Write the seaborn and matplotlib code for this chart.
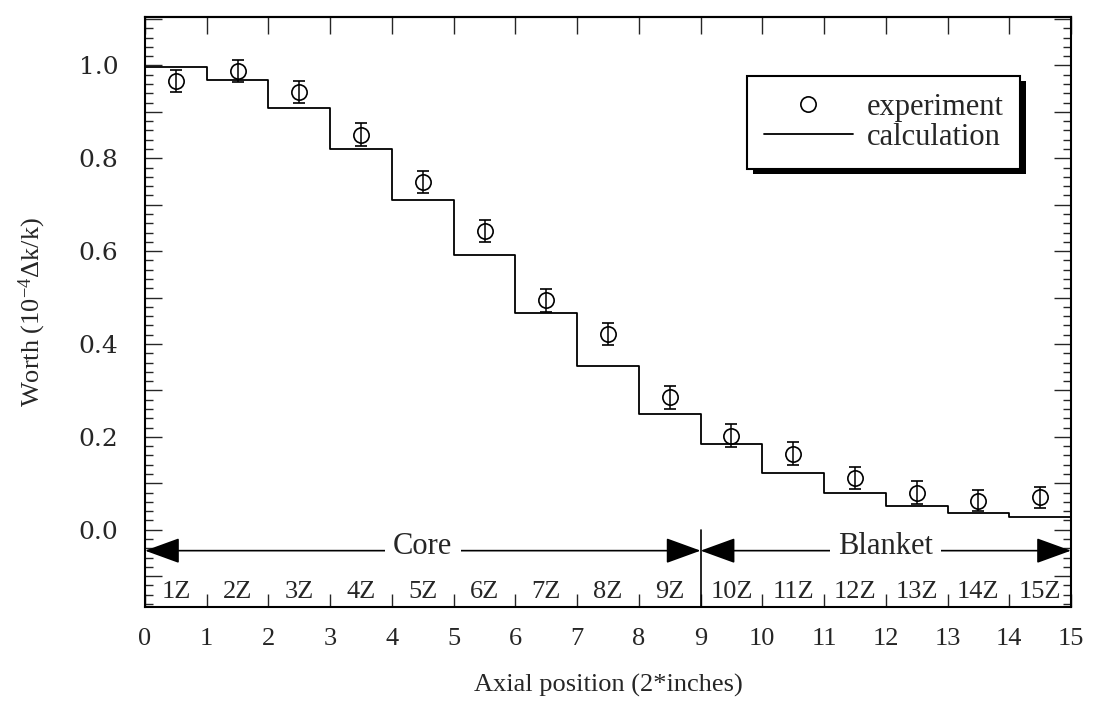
import numpy as np
import matplotlib
matplotlib.use("Agg")
import matplotlib.pyplot as plt
import matplotlib.patheffects as pe
from matplotlib.lines import Line2D
from matplotlib.ticker import MultipleLocator, FuncFormatter
import seaborn as sns

# ---------------- data ----------------
zones = ["1Z", "2Z", "3Z", "4Z", "5Z", "6Z", "7Z", "8Z", "9Z",
         "10Z", "11Z", "12Z", "13Z", "14Z", "15Z"]
zone_edges = list(range(16))            # axial boundaries 0..15
zone_centers = [i + 0.5 for i in range(15)]
calculation = [0.997, 0.968, 0.908, 0.819, 0.711, 0.591, 0.467, 0.352, 0.250,
               0.185, 0.122, 0.080, 0.052, 0.036, 0.027]
experiment = [0.967, 0.988, 0.943, 0.851, 0.749, 0.644, 0.494, 0.421, 0.285,
              0.203, 0.164, 0.111, 0.080, 0.063, 0.070]
exp_error = [0.024, 0.023, 0.024, 0.024, 0.024, 0.024, 0.024, 0.024, 0.024,
             0.024, 0.024, 0.024, 0.025, 0.022, 0.023]
core_range = (0, 9)
blanket_range = (9, 15)
region_labels = ["Core", "Blanket"]
x_ticks = list(range(16))

# ---------------- style ----------------
sns.set_theme(style="ticks")
plt.rcParams["font.family"] = ["Liberation Serif", "DejaVu Serif"]
plt.rcParams["mathtext.fontset"] = "custom"
plt.rcParams["mathtext.rm"] = "Liberation Serif"
plt.rcParams["mathtext.it"] = "Liberation Serif:italic"
plt.rcParams["axes.edgecolor"] = "black"
plt.rcParams["axes.linewidth"] = 1.5

fig = plt.figure(figsize=(10.95, 7.18), dpi=100)
ax = fig.add_axes([145 / 1095, 1 - 607.3 / 718, (1071 - 145) / 1095, (607.3 - 16.7) / 718])
ax.set_facecolor("white")

# calculation: step line
calc_ext = calculation + [calculation[-1]]
sns.lineplot(x=zone_edges, y=calc_ext, drawstyle="steps-post", color="black",
             linewidth=1.3, ax=ax, legend=False, estimator=None)

# experiment: hollow circles with error bars
ax.errorbar(zone_centers, experiment, yerr=exp_error, fmt="o", mfc="none",
            mec="black", ms=11, mew=1.2, ecolor="black", elinewidth=1.1,
            capsize=4.5, capthick=1.3, zorder=4)

ax.set_xlim(0, 15)
ax.set_ylim(-0.167, 1.105)

# region arrows
arrow_y = -0.045
for (x0, x1), lab in zip([core_range, blanket_range], region_labels):
    ax.annotate("", xy=(x0, arrow_y), xytext=(x1, arrow_y),
                arrowprops=dict(arrowstyle="<|-|>,head_length=1.1,head_width=0.4",
                                color="black", lw=1.2, shrinkA=0, shrinkB=0,
                                mutation_scale=20), zorder=3)
    ax.text((x0 + x1) / 2, arrow_y + 0.008, lab, ha="center", va="center",
            fontsize=22, zorder=6,
            bbox=dict(fc="white", ec="none", pad=6))

# core/blanket divider
ax.plot([core_range[1], core_range[1]], [ax.get_ylim()[0], 0.0], color="black", lw=1.2)

# zone labels
for xc, z in zip(zone_centers, zones):
    ax.text(xc, -0.135, z, ha="center", va="center", fontsize=19)

# ticks
ax.set_xticks(x_ticks)
ax.tick_params(axis="x", which="major", direction="in", length=9.5, width=1.0,
               pad=15, labelsize=19, bottom=True, top=False)
ax.yaxis.set_major_locator(MultipleLocator(0.1))
ax.yaxis.set_minor_locator(MultipleLocator(0.02))
ax.yaxis.set_major_formatter(FuncFormatter(
    lambda v, p: f"{v:.1f}" if (round(v * 10) % 2 == 0 and -0.01 < v < 1.01) else ""))
ax.tick_params(axis="y", which="major", direction="in", length=12, width=1.0,
               pad=19, left=True, right=True, labelsize=18)
ax.tick_params(axis="y", which="minor", direction="in", length=6, width=1.0,
               left=True, right=True)
for lbl in ax.get_yticklabels():
    lbl.set_fontfamily("DejaVu Serif")

secax = ax.secondary_xaxis("top")
secax.set_xticks(x_ticks)
secax.tick_params(direction="in", length=12, width=1.0, labeltop=False)
secax.spines["top"].set_linewidth(1.5)

ax.set_xlabel("Axial position (2*inches)", fontsize=19, labelpad=17)
ax.set_ylabel("Worth (10$^{-4}$Δk/k)", fontsize=19, labelpad=22)

# legend
handles = [
    Line2D([], [], marker="o", ls="none", mfc="none", mec="black", ms=11, mew=1.2),
    Line2D([], [], color="black", lw=1.3),
]
leg = ax.legend(handles, ["experiment", "calculation"], loc="upper right",
                bbox_to_anchor=(0.945, 0.90), borderaxespad=0, fontsize=22,
                frameon=True, fancybox=False, edgecolor="black",
                handlelength=2.9, handletextpad=0.45, labelspacing=0.05,
                borderpad=0.55)
leg.get_frame().set_linewidth(1.5)
leg.get_frame().set_alpha(1)
leg.get_frame().set_path_effects([
    pe.SimplePatchShadow(offset=(4, -4), shadow_rgbFace="black", alpha=1.0),
    pe.Normal()])

fig.savefig("out.png", dpi=100, facecolor="white")
